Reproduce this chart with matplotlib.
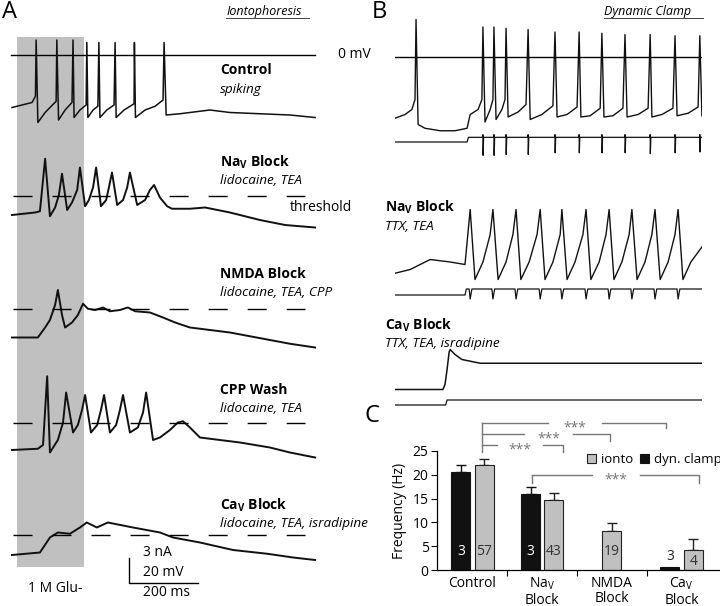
import numpy as np
import matplotlib
matplotlib.use("Agg")
import matplotlib.pyplot as plt
from matplotlib.lines import Line2D
from matplotlib.patches import Rectangle

plt.rcParams['font.family'] = ['Open Sans', 'DejaVu Sans']
plt.rcParams['mathtext.fontset'] = 'custom'
plt.rcParams['mathtext.rm'] = 'Open Sans'
plt.rcParams['mathtext.it'] = 'Open Sans:italic'
plt.rcParams['mathtext.bf'] = 'Open Sans:bold'

# ---- panel A: iontophoresis traces (time ms, Vm mV) ----
ctrl_t = [0, 58, 68, 70, 75, 96, 128, 130, 135, 154, 174, 177, 180, 197, 215, 217, 220, 235, 249, 252,
          255, 275, 296, 299, 302, 325, 354, 355, 358, 386, 415, 438, 441, 447, 487, 574, 632, 719, 806, 879]
ctrl_v = [-42, -38, -33, 12, -54, -46, -37, 12, -52, -44, -38, 12, -50, -44, -40, 10, -50, -44, -41, 10,
          -50, -44, -40, 10, -50, -44, -39, 10, -50, -44, -41, -36, 10, -48, -47, -44, -46, -47, -48, -50]

nav_t = [0, 67, 81, 96, 110, 125, 136, 145, 160, 174, 189, 197, 212, 223, 235, 244, 258, 273, 281, 290,
         305, 322, 334, 342, 363, 386, 400, 412, 429, 450, 464, 516, 560, 632, 719, 792, 835, 879]
nav_v = [-55, -53, -52, -10, -56, -49, -39, -22, -51, -45, -35, -17, -48, -43, -33, -17, -48, -43, -33, -21,
         -47, -43, -33, -21, -47, -43, -35, -31, -41, -48, -50, -50, -49, -53, -59, -63, -64, -65]

nmda_t = [0, 75, 96, 110, 125, 133, 145, 154, 174, 191, 206, 220, 241, 264, 284, 313, 336, 357, 400, 438,
          473, 516, 574, 632, 690, 748, 806, 879]
nmda_v = [-63, -63, -55, -49, -37, -25, -45, -55, -51, -45, -36, -40, -41, -39, -42, -41, -39, -42, -43, -47,
          -51, -55, -57, -59, -62, -65, -68, -71]

cpp_t = [0, 75, 90, 102, 110, 133, 148, 157, 177, 191, 203, 212, 229, 247, 258, 267, 284, 302, 313, 322,
         342, 365, 380, 389, 409, 429, 458, 481, 496, 516, 545, 603, 661, 748, 806, 879]
cpp_v = [-62, -61, -58, -3, -64, -54, -40, -16, -48, -42, -30, -18, -48, -42, -30, -18, -48, -42, -30, -18,
         -48, -44, -32, -16, -54, -52, -46, -40, -39, -44, -52, -54, -56, -60, -64, -68]

cav_t = [0, 81, 110, 133, 168, 197, 217, 246, 278, 351, 429, 467, 545, 641, 740, 815, 879]
cav_v = [-56, -54, -42, -38, -39, -34, -30, -34, -30, -34, -38, -42, -46, -52, -55, -58, -60]

threshold = -40
glu_on, glu_off = 14.5, 209

# ---- panel B: dynamic clamp traces ----
dc_ctrl_t = [0, 29, 49, 58, 61, 67, 87, 131, 174, 209, 218, 241, 252, 255, 261, 276, 284, 287, 293, 310,
             319, 322, 328, 357, 380, 386, 392, 426, 458, 464, 470, 499, 528, 534, 539, 566, 595, 600, 606,
             632, 661, 667, 673, 705, 734, 740, 745, 774, 806, 812, 818, 850, 879, 884, 890]
dc_ctrl_v = [-49, -46, -42, -34, 30, -54, -57, -59, -59, -57, -46, -42, -34, 24, -52, -42, -34, 24, -50, -42,
             -34, 23, -48, -44, -38, 22, -50, -46, -39, 20, -48, -46, -40, 20, -48, -47, -41, 19, -48,
             -47, -41, 18, -48, -46, -41, 18, -48, -46, -41, 17, -47, -45, -40, 17, -47]
dc_ctrl_spikes = [255, 287, 322, 386, 464, 534, 600, 667, 740, 812, 884]
dc_ctrl_tick = [-1.6, -1.6, -1.5, -1.5, -1.3, -1.3, -1.3, -1.3, -1.4, -1.3, -1.2]

dc_nav_t = [0, 44, 102, 160, 203, 218, 232, 255, 276, 284, 299, 322, 342, 351, 365, 389, 412, 421, 435, 458,
            479, 484, 499, 522, 545, 554, 568, 592, 612, 621, 635, 658, 679, 687, 702, 725, 745, 754, 769,
            792, 812, 821, 835, 858, 890]
dc_nav_v = [-57, -54, -46, -48, -50, -6, -62, -48, -26, -6, -62, -48, -26, -6, -62, -48, -26, -6, -62, -48,
            -26, -6, -62, -48, -26, -6, -62, -48, -26, -6, -62, -48, -26, -6, -62, -48, -26, -6, -62,
            -48, -26, -6, -62, -48, -36]
dc_nav_spikes = [218, 284, 351, 421, 484, 554, 621, 687, 754, 821]

dc_cav_t = [0, 139, 145, 151, 157, 160, 174, 194, 247, 362, 479, 595, 711, 827, 890]
dc_cav_v = [-60, -60, -56, -44, -30, -28, -32, -36, -39, -39, -39, -39, -39, -39, -39]

# ---- panel C: firing frequency ----
groups = ["Control", "Na$_\\mathrm{V}$\nBlock", "NMDA\nBlock", "Ca$_\\mathrm{V}$\nBlock"]
dyn_mean = [20.6, 15.9, np.nan, 0.7]
dyn_err = [1.4, 1.6, np.nan, 0.0]
dyn_n = [3, 3, None, 3]
ionto_mean = [22.0, 14.8, 8.2, 4.3]
ionto_err = [1.3, 1.4, 1.6, 2.3]
ionto_n = [57, 43, 19, 4]

W, H = 720, 606
fig = plt.figure(figsize=(W / 100, H / 100), dpi=100)


def ftext(x, y, s, **kw):
    kw.setdefault('va', 'center')
    kw.setdefault('fontsize', 10)
    fig.text(x / W, 1 - y / H, s, **kw)


def fbox(x0, y0, x1, y1):
    return [x0 / W, 1 - y1 / H, (x1 - x0) / W, (y1 - y0) / H]


# panel A axes: 1 px = 2.9 ms, 1 px = 0.8 mV
axA = fig.add_axes(fbox(12, 30, 315, 600))
axA.set_xlim(0, 878.7)
axA.set_ylim(-436, 20)
axA.axis('off')
axA.add_patch(Rectangle((glu_on, -409.6), glu_off - glu_on, 424, color='#c0c0c0', lw=0, zorder=0))
axA.plot([-3, 879], [0, 0], color='k', lw=1, clip_on=False)

offsets = [0, -73, -163, -254, -344]
traces = [(ctrl_t, ctrl_v), (nav_t, nav_v), (nmda_t, nmda_v), (cpp_t, cpp_v), (cav_t, cav_v)]
for k, (t, v) in enumerate(traces):
    axA.plot(t, np.array(v) + offsets[k], color='#111', lw=1.1 if k == 0 else 1.4,
             solid_joinstyle='round', clip_on=False)
    if k > 0:
        axA.plot([3, 850], [threshold + offsets[k]] * 2, color='k', lw=1,
                 dashes=(13.7, 14.4), clip_on=False)

# scale bar 200 ms / 20 mV
axA.plot([338, 338, 538], [-402, -422, -422], color='k', lw=1, clip_on=False)

# panel B axes
axB = fig.add_axes(fbox(395, 10, 702, 415))
axB.set_xlim(0, 890.3)
axB.set_ylim(-286.4, 37.6)
axB.axis('off')
axB.plot([0, 890], [0, 0], color='k', lw=1)

nA = 20 / 3.0  # 3 nA drawn as 20 mV


def clamp_current(step_t, level, spikes, lows, hi=None, end=890):
    t = [0, step_t, step_t + 4]
    i = [0, 0, level]
    for s, lo in zip(spikes, lows):
        if hi is None:
            t += [s - 3, s, s + 5]
            i += [level, lo, level]
        else:
            t += [s - 1, s, s + 0.5, s + 2]
            i += [level, hi, lo, level]
    t.append(end)
    i.append(level)
    return np.array(t), np.array(i)


axB.plot(dc_ctrl_t, dc_ctrl_v, color='#111', lw=1)
ct, ci = clamp_current(209, 0.56, dc_ctrl_spikes, dc_ctrl_tick, hi=0.88)
axB.plot(ct, ci * nA - 68, color='#111', lw=0.9)

axB.plot(dc_nav_t, np.array(dc_nav_v) - 116, color='#111', lw=1)
ct, ci = clamp_current(203, 0.72, dc_nav_spikes, [-0.48] * len(dc_nav_spikes))
axB.plot(ct, ci * nA - 190.4, color='#111', lw=0.9)

axB.plot(dc_cav_t, np.array(dc_cav_v) - 206, color='#111', lw=1.1)
ct, ci = clamp_current(147, 0.6, [], [])
axB.plot(ct, ci * nA - 278.4, color='#111', lw=0.9)

# panel C bar chart
axC = fig.add_axes(fbox(437, 451, 720, 570))
x = np.arange(len(groups))
has_dyn = ~np.isnan(dyn_mean)
off = np.where(has_dyn, 0.168, 0.0)
bw = 0.273
xb = x[has_dyn] - 0.168
xg = x + off
axC.bar(xb, np.array(dyn_mean)[has_dyn], bw, color='#111111', edgecolor='#111111', lw=0.8, zorder=2)
axC.bar(xg, ionto_mean, bw, color='#c0c0c0', edgecolor='#222222', lw=0.8, zorder=2)
de = np.array(dyn_err)[has_dyn]
keep = de > 0
axC.errorbar(xb[keep], np.array(dyn_mean)[has_dyn][keep], yerr=[np.zeros(keep.sum()), de[keep]],
             fmt='none', ecolor='#111', elinewidth=1, capsize=3.5, capthick=1, zorder=1)
axC.errorbar(xg, ionto_mean, yerr=[np.zeros(len(xg)), ionto_err], fmt='none', ecolor='#222',
             elinewidth=1, capsize=3.5, capthick=1, zorder=1)

for xi, m, n in zip(xb, np.array(dyn_mean)[has_dyn], [n for n in dyn_n if n is not None]):
    if m > 6:
        axC.text(xi, 3.8, str(n), color='white', ha='center', va='center', fontsize=10)
    else:
        axC.text(xi, m + 2.1, str(n), color='#222', ha='center', va='center', fontsize=10)
for xi, m, n in zip(xg, ionto_mean, ionto_n):
    axC.text(xi, 3.8 if m > 6 else m * 0.42, str(n), color='#333', ha='center', va='center', fontsize=10)

axC.set_xlim(-0.51, 3.55)
axC.set_ylim(0, 25)
axC.set_yticks([0, 5, 10, 15, 20, 25])
axC.set_xticks(x)
axC.set_xticklabels(groups, fontsize=10, linespacing=1.05)
axC.set_xticks([0.5, 1.5, 2.5], minor=True)
axC.tick_params(axis='x', which='major', length=0, pad=4)
axC.tick_params(axis='x', which='minor', length=4, width=0.8)
axC.tick_params(axis='y', length=4, width=0.8, labelsize=10, pad=2)
for s in ['top', 'right']:
    axC.spines[s].set_visible(False)
for s in ['left', 'bottom']:
    axC.spines[s].set_linewidth(0.9)
axC.set_ylabel("Frequency (Hz)", fontsize=10, labelpad=4)

handles = [Rectangle((0, 0), 1, 1, fc='#c0c0c0', ec='#222', lw=0.8),
           Rectangle((0, 0), 1, 1, fc='#111', ec='#111', lw=0.8)]
axC.legend(handles, ["ionto", "dyn. clamp"], ncol=2, loc='center left', bbox_to_anchor=(0.53, 0.93),
           frameon=False, fontsize=9.5, handlelength=0.7, handleheight=0.7, handletextpad=0.35,
           columnspacing=0.5, borderaxespad=0, borderpad=0)

# significance brackets (x in group units, y in Hz)
gray = '#777777'
brackets = [
    (0.136, 2.777, 30.8, 29.8, 1.084, 1.859),
    (0.136, 1.974, 28.5, 27.0, 0.739, 1.443),
    (0.136, 1.300, 26.2, 24.7, 0.352, 1.012),
    (0.854, 3.250, 19.9, 18.2, 1.715, 2.404),
]
for x0, x1, yl, yd, g0, g1 in brackets:
    axC.plot([x0, g0], [yl, yl], color=gray, lw=1, clip_on=False)
    axC.plot([g1, x1, x1], [yl, yl, yd], color=gray, lw=1, clip_on=False)
    axC.text((g0 + g1) / 2, yl - 0.9, "***", color=gray, ha='center', va='center', fontsize=10)
    if x0 > 0.5:
        axC.plot([x0, x0], [yd, yl], color=gray, lw=1, clip_on=False)
axC.plot([0.136, 0.136], [24.7, 30.8], color=gray, lw=1, clip_on=False)

# text and labels
ftext(9.5, 12, "A", fontsize=17, ha='center')
ftext(379, 12, "B", fontsize=17, ha='center')
ftext(372, 416, "C", fontsize=17, ha='center')

ftext(226, 11, "Iontophoresis", style='italic', fontsize=9)
fig.add_artist(Line2D([226 / W, 309 / W], [1 - 18 / H] * 2, color='#444', lw=0.7))
ftext(604, 12, "Dynamic Clamp", style='italic', fontsize=9)
fig.add_artist(Line2D([604 / W, 703 / W], [1 - 18 / H] * 2, color='#444', lw=0.7))

ftext(338, 55, "0 mV")
ftext(290, 208, "threshold")

a_labels = [("Control", "spiking", 70), ("Na$_\\mathbf{V}$ Block", "lidocaine, TEA", 162),
            ("NMDA Block", "lidocaine, TEA, CPP", 274), ("CPP Wash", "lidocaine, TEA", 390),
            ("Ca$_\\mathbf{V}$ Block", "lidocaine, TEA, isradipine", 505)]
for title, sub, y in a_labels:
    ftext(220, y, title, fontweight='bold')
    ftext(220, y + 19, sub, style='italic', fontsize=9.7)

b_labels = [("Na$_\\mathbf{V}$ Block", "TTX, TEA", 207), ("Ca$_\\mathbf{V}$ Block", "TTX, TEA, isradipine", 325)]
for title, sub, y in b_labels:
    ftext(385, y, title, fontweight='bold')
    ftext(385, y + 19, sub, style='italic', fontsize=9.7)

ftext(143, 553, "3 nA")
ftext(143, 572, "20 mV")
ftext(143, 593, "200 ms")
ftext(55, 588, "1 M Glu-", ha='center')

fig.savefig("out.png", dpi=100)
